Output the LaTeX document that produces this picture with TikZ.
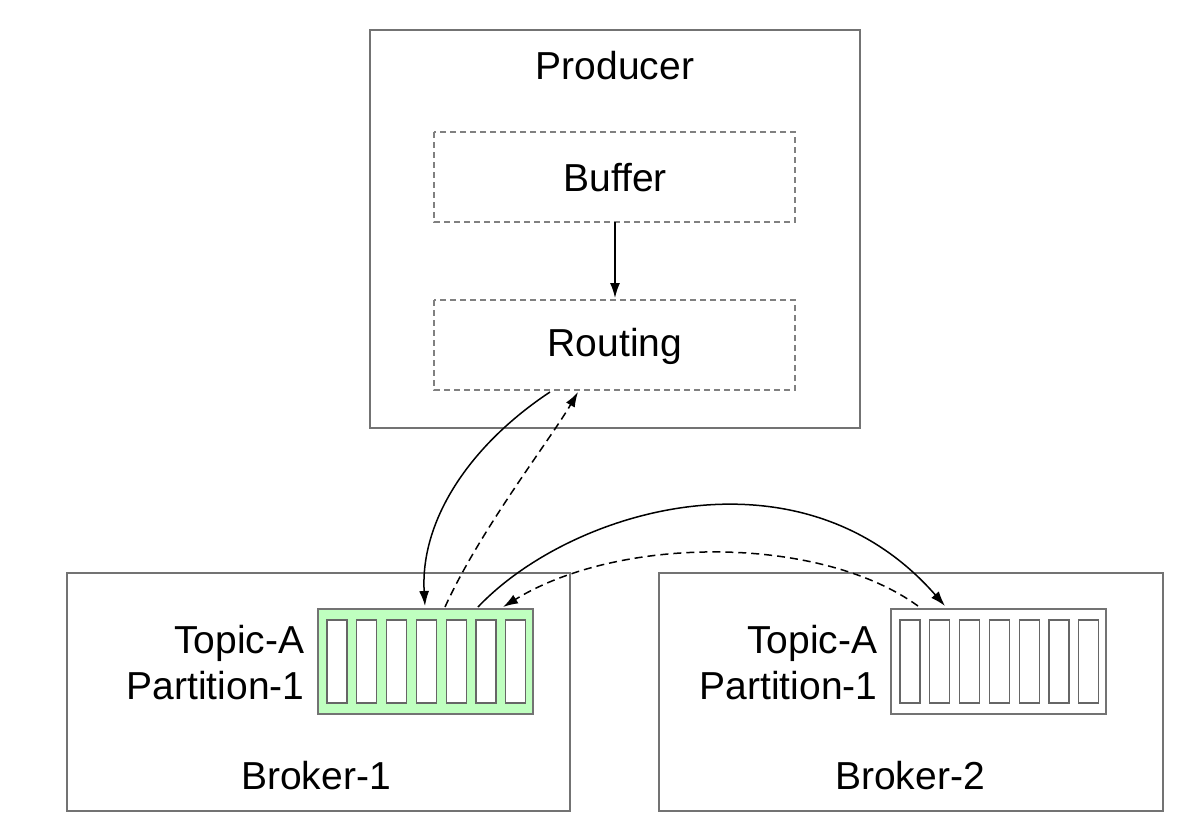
\documentclass[tikz,border=0pt]{standalone}
\usepackage{fontspec}
\setmainfont{Liberation Sans}
\usetikzlibrary{arrows.meta}
\begin{document}
\begin{tikzpicture}[x=1pt,y=-1pt,
  box/.style={draw=black!55,line width=1.5pt},
  dbox/.style={draw=black!50,line width=1.3pt,dash pattern=on 6pt off 4pt},
  cell/.style={draw=black!60,fill=white,line width=1.3pt,minimum width=20pt,minimum height=83pt,inner sep=0},
  lbl/.style={font=\fontsize{39}{46}\selectfont},
  arr/.style={-{Latex[length=15pt,width=10pt]},line width=1.5pt},
  darr/.style={arr,dash pattern=on 8pt off 5pt}]
\useasboundingbox (0,0) rectangle (1204,838);
\draw[box] (370,30) rectangle (860,428);
\node[lbl] (prod) at (615,66) {Producer};
\draw[dbox] (434,132) rectangle (795,222);
\node[lbl] (buf) at (615,178) {Buffer};
\coordinate (bufb) at (615,222);
\draw[dbox] (434,300) rectangle (795,390);
\node[lbl] (rout) at (615,346) {Routing};
\coordinate (routt) at (615,298);
\draw[arr] (bufb) -- (routt);
\draw[box] (67,573) rectangle (570,811);
\draw[box] (659,573) rectangle (1163,811);
\node[lbl] (b1) at (316,776) {Broker-1};
\node[lbl] (b2) at (910,776) {Broker-2};
\node[lbl,align=right,anchor=east] (t1) at (308,663) {Topic-A\\Partition-1};
\node[lbl,align=right,anchor=east] (t2) at (881,663) {Topic-A\\Partition-1};
\draw[draw=black!55,fill=green!25!white,line width=1.5pt] (318,609) rectangle (533,714);
\draw[draw=black!55,line width=1.5pt] (891,609) rectangle (1106,714);
\foreach \i in {0,...,6}{
  \node[cell] (c\i) at (337+29.8*\i,661.5) {};
  \node[cell] (d\i) at (910+29.8*\i,661.5) {};
}
\coordinate (r1) at (550,392);
\coordinate (r2) at (578,392);
\coordinate (p1) at (425,606);
\coordinate (p2) at (445,607);
\coordinate (p3) at (478,607);
\coordinate (p4) at (503,607);
\coordinate (q1) at (945,606);
\coordinate (q2) at (918,606);
\draw[arr] (r1) .. controls (470,445) and (420,520) .. (p1);
\draw[darr] (p2) .. controls (480,530) and (550,440) .. (r2);
\draw[arr] (p3) .. controls (570,510) and (800,440) .. (q1);
\draw[darr] (q2) .. controls (820,535) and (620,535) .. (p4);
\end{tikzpicture}
\end{document}
